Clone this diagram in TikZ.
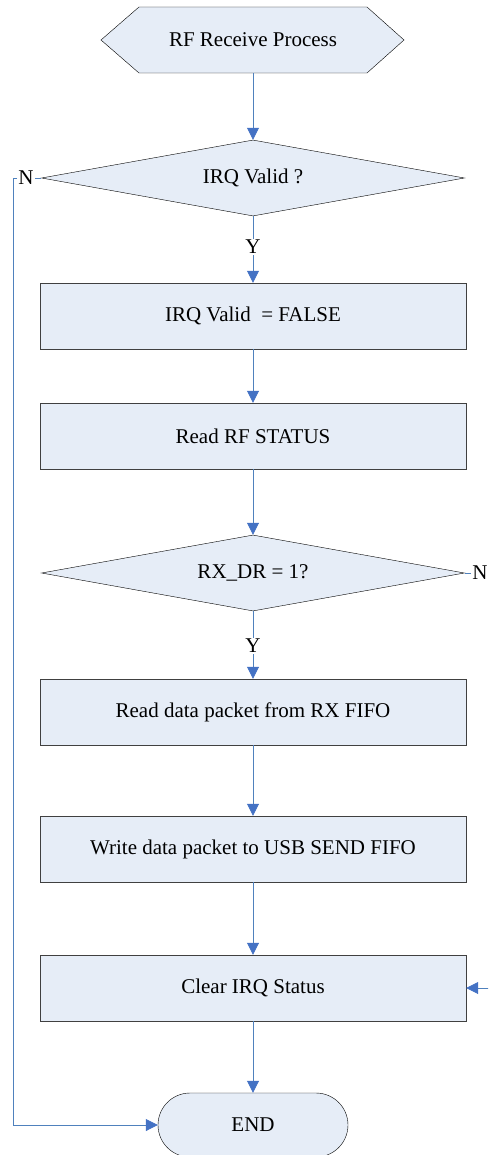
\documentclass[tikz,border=0pt]{standalone}
\usepackage{fontspec}
\setmainfont{Liberation Serif}
\usetikzlibrary{shapes.geometric,shapes.misc,arrows.meta}
\definecolor{fillblue}{RGB}{230,237,247}
\definecolor{lineblue}{RGB}{79,129,189}
\definecolor{tipblue}{RGB}{68,114,196}
\begin{document}
\begin{tikzpicture}[x=1pt, y=-1pt,
	every node/.style={font=\fontsize{21}{25}\selectfont},
	proc/.style={draw=black!75, fill=fillblue, minimum width=426pt, minimum height=66pt, inner sep=0pt},
	decision/.style={draw=black, fill=fillblue, diamond, aspect=5.5, minimum width=423pt, minimum height=76pt, inner sep=0pt},
	term/.style={draw=black, fill=fillblue, rounded rectangle, minimum width=190pt, minimum height=64pt, inner sep=0pt},
	yn/.style={inner sep=1pt},
	link/.style={lineblue, line width=0.8pt},
	flow/.style={link, -{Triangle[length=12pt, width=12pt, color=tipblue]}}]
	\useasboundingbox (0, 0) rectangle (488, 1155);
	\clip (0, 0) rectangle (488, 1155);

	%inicio
	\draw[black, fill=fillblue] (101, 40) -- (139, 7) -- (367, 7) -- (404, 40) -- (367, 73) -- (139, 73) -- cycle;
	\node[minimum height=66pt, inner sep=0pt] (start) at (253, 40) {RF Receive Process};

	%irq
	\node[decision] (irq) at (253, 178) {IRQ Valid ?};
	\node[yn] (irqy) at (253, 247) {Y};
	\node[yn] (irqn) at (26, 178) {N};
	\node[proc] (clrvalid) at (253, 316) {IRQ Valid~ = FALSE};
	\node[proc] (status) at (253, 436) {Read RF STATUS};

	%rx_dr
	\node[decision] (rxdr) at (253, 573) {RX\_DR = 1?};
	\node[yn] (rxdry) at (253, 646) {Y};
	\node[yn] (rxdrn) at (480, 573) {N};
	\node[proc] (readfifo) at (253, 712) {Read data packet from RX FIFO};
	\node[proc] (usbfifo) at (253, 849) {Write data packet to USB SEND FIFO};
	\node[proc] (clrirq) at (253, 988) {Clear IRQ Status};

	%fim
	\node[term] (end) at (253, 1125) {END};

	\coordinate (lft) at (13, 178);
	\coordinate (rgt) at (500, 573);

	%ligacoes
	\draw[flow] (start.south) -- (irq.north);
	\draw[link] (irq.south) -- (irqy.north);
	\draw[flow] (irqy.south) -- (clrvalid.north);
	\draw[flow] (clrvalid.south) -- (status.north);
	\draw[flow] (status.south) -- (rxdr.north);
	\draw[link] (rxdr.south) -- (rxdry.north);
	\draw[flow] (rxdry.south) -- (readfifo.north);
	\draw[flow] (readfifo.south) -- (usbfifo.north);
	\draw[flow] (usbfifo.south) -- (clrirq.north);
	\draw[flow] (clrirq.south) -- (end.north);

	%ramos N
	\draw[link] (irq.west) -- (irqn.east);
	\draw[flow] (irqn.west) -- (lft) |- (end.west);
	\draw[link] (rxdr.east) -- (rxdrn.west);
	\draw[flow] (rxdrn.east) -- (rgt) |- (clrirq.east);
\end{tikzpicture}
\end{document}
